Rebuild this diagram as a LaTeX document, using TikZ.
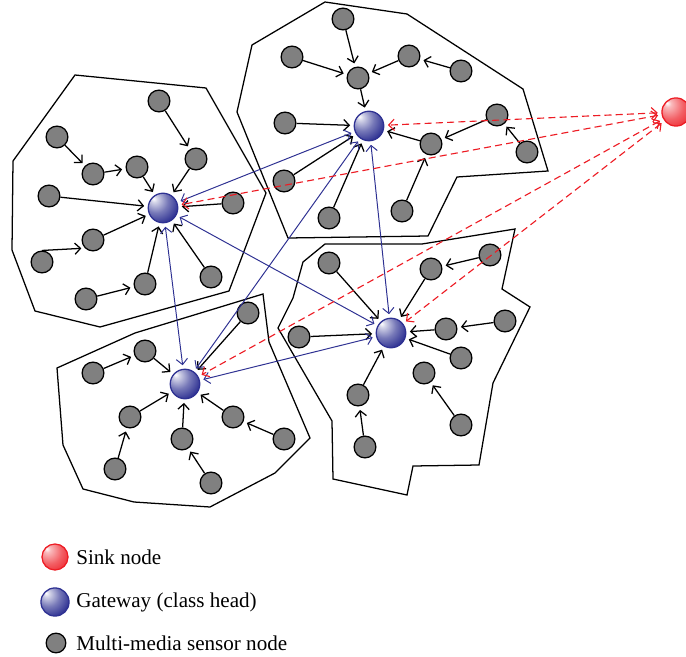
\documentclass[tikz,border=0pt]{standalone}
\usepackage{fontspec}
\setmainfont{Liberation Serif}
\usetikzlibrary{arrows.meta}
\definecolor{linkblue}{RGB}{46,49,146}
\definecolor{sinkred}{RGB}{237,28,36}
\pgfdeclareradialshading{gateball}{\pgfpoint{-16bp}{16bp}}{color(0bp)=(white); color(5bp)=(white!80!linkblue); color(20bp)=(linkblue!65!white); color(36bp)=(linkblue); color(80bp)=(linkblue!85!black)}
\pgfdeclareradialshading{sinkball}{\pgfpoint{-16bp}{16bp}}{color(0bp)=(white); color(6bp)=(white!70!sinkred); color(24bp)=(sinkred!70!white); color(44bp)=(sinkred); color(80bp)=(sinkred)}

\begin{document}
\begin{tikzpicture}[x=0.025cm, y=-0.025cm, line width=.9pt,
		>={Straight Barb[length=4pt,width=8pt]},
		sensor/.style={circle, draw, fill=gray, minimum size=15.5pt, inner sep=0pt},
		gateway/.style={circle, draw=linkblue, shade, shading=gateball, minimum size=21pt, inner sep=0pt},
		sink/.style={circle, draw=sinkred, shade, shading=sinkball, minimum size=20pt, inner sep=0pt},
		hop/.style={->, shorten >=2.5pt},
		link/.style={<->, draw=linkblue, line width=.7pt, shorten >=2.5pt, shorten <=2.5pt},
		uplink/.style={<->, draw=sinkred, dash pattern=on 5pt off 3pt, line width=.8pt, shorten >=2.5pt, shorten <=2.5pt}]
		\useasboundingbox (0, 0) rectangle (686, 657);
		\draw (75, 75) -- (206, 88) -- (266, 193) -- (229, 291) -- (100, 327) -- (35, 311) -- (12, 250) -- (13, 161) -- cycle;
		\draw (325, 2) -- (407, 14) -- (523, 89) -- (548, 171) -- (457, 177) -- (428, 236) -- (288, 238) -- (237, 112) -- (252, 45) -- cycle;
		\draw (325, 244) -- (422, 244) -- (515, 229) -- (502, 289) -- (530, 307) -- (493, 383) -- (479, 465) -- (413, 466) -- (407, 495) -- (333, 479) -- (332, 421) -- (278, 328) -- (293, 298) -- (303, 262) -- cycle;
		\draw (263, 294) -- (269, 342) -- (310, 438) -- (275, 473) -- (210, 507) -- (134, 502) -- (83, 489) -- (63, 445) -- (57, 368) -- (135, 333) -- cycle;

		\node [gateway] (ga) at (163, 208) {};
		\node [gateway] (gb) at (369, 126) {};
		\node [gateway] (gc) at (391, 333) {};
		\node [gateway] (gd) at (185, 384) {};
		\node [sink] (sk) at (676, 112) {};

		\node [sensor] (a1) at (159, 101) {};
		\node [sensor] (a2) at (196, 159) {};
		\node [sensor] (a3) at (57, 137) {};
		\node [sensor] (a4) at (93, 174) {};
		\node [sensor] (a5) at (137, 167) {};
		\node [sensor] (a6) at (49, 196) {};
		\node [sensor] (a7) at (233, 203) {};
		\node [sensor] (a8) at (93, 240) {};
		\node [sensor] (a9) at (42, 262) {};
		\node [sensor] (a10) at (211, 277) {};
		\node [sensor] (a11) at (145, 284) {};
		\node [sensor] (a12) at (86, 299) {};

		\node [sensor] (b1) at (343, 19) {};
		\node [sensor] (b2) at (292, 57) {};
		\node [sensor] (b3) at (409, 56) {};
		\node [sensor] (b4) at (461, 71) {};
		\node [sensor] (b5) at (358, 78) {};
		\node [sensor] (b6) at (285, 123) {};
		\node [sensor] (b7) at (497, 115) {};
		\node [sensor] (b8) at (431, 144) {};
		\node [sensor] (b9) at (527, 152) {};
		\node [sensor] (b10) at (284, 181) {};
		\node [sensor] (b11) at (329, 218) {};
		\node [sensor] (b12) at (402, 211) {};

		\node [sensor] (c1) at (329, 263) {};
		\node [sensor] (c2) at (431, 269) {};
		\node [sensor] (c3) at (490, 255) {};
		\node [sensor] (c4) at (299, 337) {};
		\node [sensor] (c5) at (446, 329) {};
		\node [sensor] (c6) at (505, 321) {};
		\node [sensor] (c7) at (461, 358) {};
		\node [sensor] (c8) at (424, 373) {};
		\node [sensor] (c9) at (358, 395) {};
		\node [sensor] (c10) at (461, 425) {};
		\node [sensor] (c11) at (365, 447) {};

		\node [sensor] (d1) at (248, 313) {};
		\node [sensor] (d2) at (145, 351) {};
		\node [sensor] (d3) at (93, 373) {};
		\node [sensor] (d4) at (130, 417) {};
		\node [sensor] (d5) at (233, 417) {};
		\node [sensor] (d6) at (182, 439) {};
		\node [sensor] (d7) at (284, 439) {};
		\node [sensor] (d8) at (115, 469) {};
		\node [sensor] (d9) at (211, 483) {};

		\draw [hop] (a1) -- (a2);
		\draw [hop] (a2) -- (ga);
		\draw [hop] (a3) -- (a4);
		\draw [hop] (a4) -- (a5);
		\draw [hop] (a5) -- (ga);
		\draw [hop] (a6) -- (ga);
		\draw [hop] (a7) -- (ga);
		\draw [hop] (a9.north) -- (a8.south west);
		\draw [hop] (a8) -- (ga);
		\draw [hop] (a12) -- (a11);
		\draw [hop] (a11) -- (ga);
		\draw [hop] (a10) -- (ga);

		\draw [hop] (b1) -- (b5);
		\draw [hop] (b2) -- (b5);
		\draw [hop] (b4) -- (b3);
		\draw [hop] (b3) -- (b5);
		\draw [hop] (b5) -- (gb);
		\draw [hop] (b6) -- (gb);
		\draw [hop] (b10) -- (gb);
		\draw [hop] (b11) -- (gb);
		\draw [hop] (b8) -- (gb);
		\draw [hop] (b7) -- (b8);
		\draw [hop] (b9) -- (b7);
		\draw [hop] (b12) -- (b8);

		\draw [hop] (c1) -- (gc);
		\draw [hop] (c3) -- (c2);
		\draw [hop] (c2) -- (gc);
		\draw [hop] (c4) -- (gc);
		\draw [hop] (c6) -- (c5);
		\draw [hop] (c5) -- (gc);
		\draw [hop] (c7) -- (gc);
		\draw [hop] (c10) -- (c8);
		\draw [hop] (c9) -- (gc);
		\draw [hop] (c11) -- (c9);

		\draw [hop] (d1) -- (gd);
		\draw [hop] (d3) -- (d2);
		\draw [hop] (d2) -- (gd);
		\draw [hop] (d4) -- (gd);
		\draw [hop] (d8) -- (d4);
		\draw [hop] (d6) -- (gd);
		\draw [hop] (d9) -- (d6);
		\draw [hop] (d5) -- (gd);
		\draw [hop] (d7) -- (d5);

		\draw [link] (ga) -- (gb);
		\draw [link] (ga) -- (gc);
		\draw [link] (ga) -- (gd);
		\draw [link] (gb) -- (gc);
		\draw [link] (gb) -- (gd);
		\draw [link] (gc) -- (gd);

		\draw [uplink] (sk) -- (ga);
		\draw [uplink] (sk) -- (gb);
		\draw [uplink] (sk) -- (gc);
		\draw [uplink] (sk) -- (gd);

		\node [sink, minimum size=18.5pt] (lsink) at (55, 557) {};
		\node [gateway, minimum size=20pt] (lgate) at (55, 602) {};
		\node [sensor, minimum size=14pt] (lsensor) at (56, 643) {};
		\node [anchor=west, font=\fontsize{15}{18}\selectfont] (lsinktext) at (71, 557) {Sink node};
		\node [anchor=west, font=\fontsize{15}{18}\selectfont] (lgatetext) at (71, 602) {Gateway (class head)};
		\node [anchor=west, font=\fontsize{15}{18}\selectfont] (lsensortext) at (71, 643) {Multi-media sensor node};
	\end{tikzpicture}
\end{document}
